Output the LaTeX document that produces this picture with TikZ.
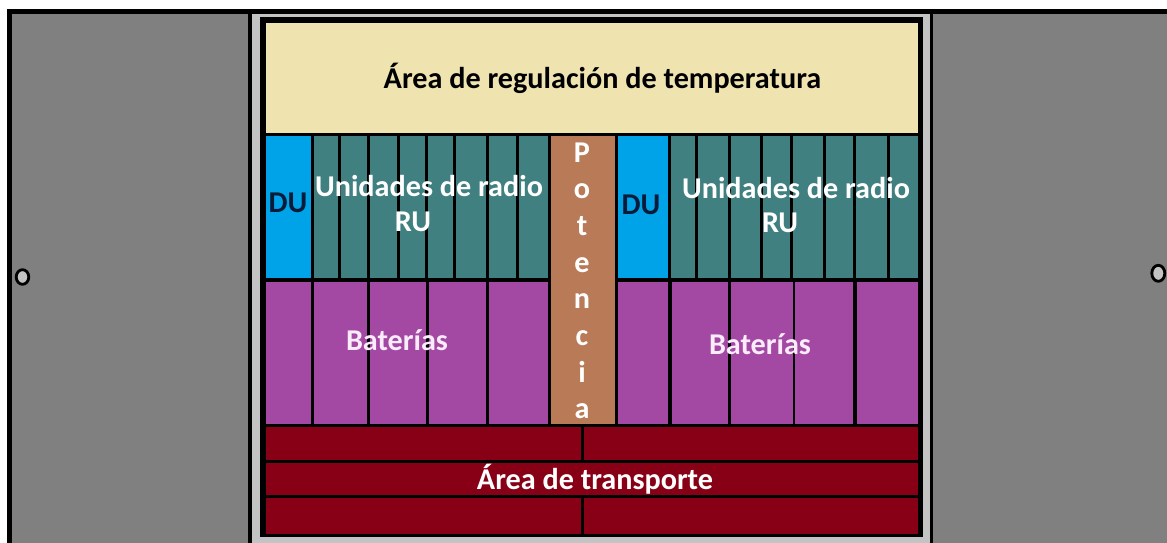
\documentclass[tikz,border=0pt]{standalone}
\usepackage{fontspec}
\setmainfont{Carlito}
\definecolor{panelgray}{RGB}{128,128,128}
\definecolor{lightgray2}{RGB}{195,195,195}
\definecolor{beige}{RGB}{239,228,176}
\definecolor{dublue}{RGB}{0,162,232}
\definecolor{ruteal}{RGB}{64,128,128}
\definecolor{potbrown}{RGB}{185,122,87}
\definecolor{batpurple}{RGB}{163,73,164}
\definecolor{transred}{RGB}{136,0,21}
\definecolor{dunavy}{RGB}{8,28,58}
\definecolor{batwhite}{RGB}{250,236,250}
\begin{document}
\begin{tikzpicture}[x=1pt,y=-1pt,
  lbl/.style={font=\bfseries\fontsize{30.2}{36}\selectfont, inner sep=0pt, anchor=base},
  wlbl/.style={lbl, text=white},
  hole/.style={draw=black, line width=2.8pt, fill=lightgray2}]
\useasboundingbox (0,0) rectangle (1167,543);
% outer frame
\fill[white] (0,0) rectangle (1167,543);
\fill[black] (6.7,8.7) rectangle (1167,543);
\fill[panelgray] (12.3,14) rectangle (248.3,543);
\fill[panelgray] (933.3,14) rectangle (1167,543);
\fill[lightgray2] (251.7,14) rectangle (930,543);
% inner box
\fill[black] (260,17.3) rectangle (922.7,537.3);
% temperature area
\fill[beige] (265.6,23) rectangle (917.7,132.5);
% DU
\fill[dublue] (265.6,136) rectangle (311,278);
\fill[dublue] (618,136) rectangle (668,278);
% RU columns
\foreach \a/\b in {314/338,341/367,370/397,399.5/425,428/453,456/486,489/516,519/547.5,
                   671/695,698/728,731/760,763/790,793/823,825.5/853,856/887,889.5/917.7}
  \fill[ruteal] (\a,136) rectangle (\b,278);
% batteries
\foreach \a/\b in {265.6/311,314/367,370/426,428.5/486,488.5/547.5,
                   618/668,672/728,731/793,795/853,857/917.7}
  \fill[batpurple] (\a,281.7) rectangle (\b,424);
% power
\fill[potbrown] (550.5,136) rectangle (615,424);
% transport
\fill[transred] (265.6,427) rectangle (580.6,459.5);
\fill[transred] (584,427) rectangle (917.7,459.5);
\fill[transred] (265.6,463) rectangle (917.7,494.5);
\fill[transred] (265.6,498) rectangle (580.6,533.5);
\fill[transred] (584,498) rectangle (917.7,533.5);
% holes
\draw[hole] (22.5,277) ellipse [x radius=6.3, y radius=7.3];
\draw[hole] (1158.3,273.3) ellipse [x radius=6.5, y radius=8];
% labels
\node[lbl] (temp) at (602.5,88.3) {Área de regulación de temperatura};
\node[lbl, text=dunavy] (du1) at (288,212.7) {DU};
\node[lbl, text=dunavy] (du2) at (641,214) {DU};
\node[wlbl] (ru1a) at (429,196.7) {Unidades de radio};
\node[wlbl] (ru1b) at (413,231.7) {RU};
\node[wlbl] (ru2a) at (796,198.3) {Unidades de radio};
\node[wlbl] (ru2b) at (780,232.7) {RU};
\node[lbl, text=batwhite] (bat1) at (397,350) {Baterías};
\node[lbl, text=batwhite] (bat2) at (760,354) {Baterías};
\foreach \ch [count=\k from 0] in {P,o,t,e,n,c,i,a}
  \node[wlbl] (pot\k) at (582,162+36.7*\k) {\ch};
\node[wlbl] (trans) at (595,489.3) {Área de transporte};
\end{tikzpicture}
\end{document}
